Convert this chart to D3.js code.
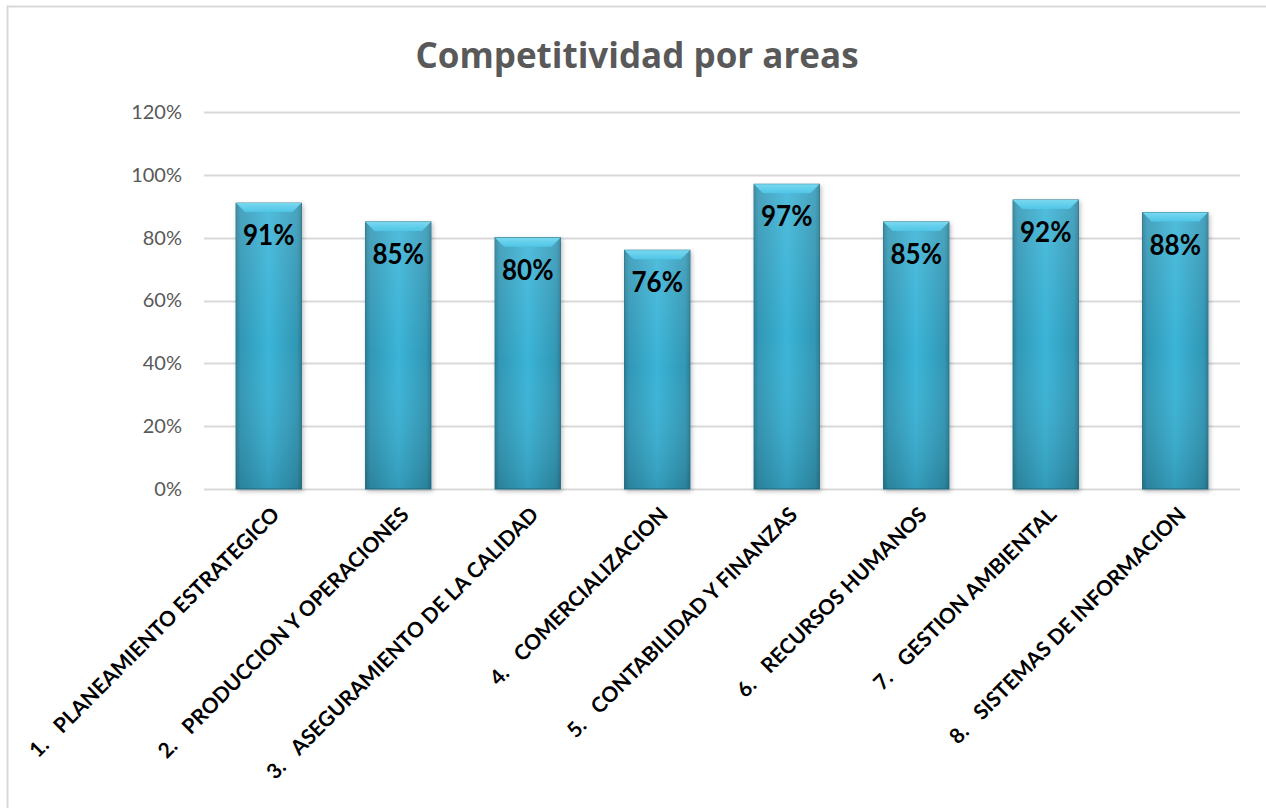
<!DOCTYPE html>
<html>
<head>
<meta charset="utf-8">
<script src="https://cdn.jsdelivr.net/npm/d3@7"></script>
<style>
  html, body { margin: 0; padding: 0; background: #fff; }
  svg { display: block; }
</style>
</head>
<body>
<svg id="chart" width="1266" height="808"></svg>
<script>
// Chart content
const chartTitle = "Competitividad por areas";
const areaNumbers = ["1.", "2.", "3.", "4.", "5.", "6.", "7.", "8."];
const areaNames = [
  "PLANEAMIENTO ESTRATEGICO",
  "PRODUCCION Y OPERACIONES",
  "ASEGURAMIENTO DE LA CALIDAD",
  "COMERCIALIZACION",
  "CONTABILIDAD Y FINANZAS",
  "RECURSOS HUMANOS",
  "GESTION AMBIENTAL",
  "SISTEMAS DE INFORMACION"
];
const scores = [0.91, 0.85, 0.80, 0.76, 0.97, 0.85, 0.92, 0.88];
const yTicks = [0, 0.2, 0.4, 0.6, 0.8, 1.0, 1.2];

const svg = d3.select("#chart");
const W = 1266, H = 808;
const plot = { left: 204, right: 1240, top: 112, bottom: 489 };

// Outer chart frame
svg.append("rect")
  .attr("x", 7.5).attr("y", 6.5)
  .attr("width", W + 10).attr("height", H + 10)
  .attr("fill", "#fff")
  .attr("stroke", "#d9d9d9").attr("stroke-width", 2);

const x = d3.scaleBand()
  .domain(areaNames)
  .range([plot.left, plot.right])
  .paddingInner(0.495)
  .paddingOuter(0.2475);

const y = d3.scaleLinear()
  .domain([0, 1.2])
  .range([plot.bottom, plot.top]);

const defs = svg.append("defs");

// Bar body: darker sides, lighter middle
const hGrad = defs.append("linearGradient").attr("id", "barH")
  .attr("x1", "0").attr("x2", "1").attr("y1", "0").attr("y2", "0");
[[0, "#2a7f98"], [0.07, "#3197b5"], [0.5, "#3ab4d7"], [0.93, "#3197b5"], [1, "#2a7f98"]]
  .forEach(([o, c]) => hGrad.append("stop").attr("offset", o).attr("stop-color", c));

// Vertical shading: lighter at the top, darker at the base
const vGrad = defs.append("linearGradient").attr("id", "barV")
  .attr("x1", "0").attr("x2", "0").attr("y1", "0").attr("y2", "1");
[[0, "#ffffff", 0.12], [0.5, "#ffffff", 0.0], [1, "#000000", 0.14]]
  .forEach(([o, c, a]) => vGrad.append("stop").attr("offset", o)
    .attr("stop-color", c).attr("stop-opacity", a));

// Top bevel
const bevel = defs.append("linearGradient").attr("id", "bevel")
  .attr("x1", "0").attr("x2", "0").attr("y1", "0").attr("y2", "1");
[[0, "#78d8f0"], [1, "#4fc5e6"]]
  .forEach(([o, c]) => bevel.append("stop").attr("offset", o).attr("stop-color", c));

const shadow = defs.append("filter").attr("id", "shadow")
  .attr("x", "-20%").attr("y", "-10%").attr("width", "140%").attr("height", "120%");
shadow.append("feDropShadow").attr("dx", 1.5).attr("dy", 2)
  .attr("stdDeviation", 2).attr("flood-color", "#000").attr("flood-opacity", 0.25);

// Gridlines
svg.append("g").selectAll("line")
  .data(yTicks)
  .join("line")
  .attr("x1", plot.left).attr("x2", plot.right)
  .attr("y1", d => Math.round(y(d)) + 0.5).attr("y2", d => Math.round(y(d)) + 0.5)
  .attr("stroke", "#d9d9d9").attr("stroke-width", 2);

// Y axis labels
const yAxis = d3.axisLeft(y)
  .tickValues(yTicks)
  .tickFormat(d3.format(".0%"))
  .tickSize(0)
  .tickPadding(22);
const yg = svg.append("g")
  .attr("transform", `translate(${plot.left},0)`)
  .call(yAxis);
yg.select(".domain").remove();
yg.selectAll("text")
  .attr("font-family", "Lato, 'Open Sans', sans-serif")
  .attr("font-size", 20)
  .attr("fill", "#595959");

// Bars
const bars = svg.append("g").selectAll("g.bar")
  .data(scores.map((v, i) => ({ name: areaNames[i], v })))
  .join("g").attr("class", "bar");

bars.append("rect")
  .attr("x", d => x(d.name))
  .attr("y", d => y(d.v))
  .attr("width", x.bandwidth())
  .attr("height", d => y(0) - y(d.v))
  .attr("fill", "url(#barH)")
  .attr("stroke", "#26768d").attr("stroke-width", 1)
  .attr("filter", "url(#shadow)");

bars.append("rect")
  .attr("x", d => x(d.name))
  .attr("y", d => y(d.v))
  .attr("width", x.bandwidth())
  .attr("height", d => y(0) - y(d.v))
  .attr("fill", "url(#barV)");

bars.append("path")
  .attr("d", d => {
    const x0 = x(d.name), x1 = x0 + x.bandwidth(), t = y(d.v), b = 9;
    return `M${x0},${t}L${x1},${t}L${x1 - b},${t + b}L${x0 + b},${t + b}Z`;
  })
  .attr("fill", "url(#bevel)");

// Value labels inside the bar top
bars.append("text")
  .attr("transform", d => `translate(${x(d.name) + x.bandwidth() / 2},${y(d.v) + 42}) scale(1,1.12)`)
  .attr("text-anchor", "middle")
  .attr("font-family", "Lato, 'Open Sans', sans-serif")
  .attr("font-weight", 700)
  .attr("font-size", 26)
  .attr("fill", "#000")
  .text(d => d3.format(".0%")(d.v));

// Category labels, rotated
const xg = svg.append("g").selectAll("text.cat")
  .data(areaNames)
  .join("text")
  .attr("class", "cat")
  .attr("transform", d => `translate(${x(d) + x.bandwidth() / 2 + 12},${plot.bottom + 27}) rotate(-45)`)
  .attr("text-anchor", "end")
  .attr("font-family", "Lato, 'Open Sans', sans-serif")
  .attr("font-weight", 700)
  .attr("font-size", 21)
  .attr("fill", "#000");
xg.append("tspan").text((d, i) => areaNumbers[i]);
xg.append("tspan").attr("dx", 17).text(d => d);

// Title
svg.append("text")
  .attr("x", 637).attr("y", 68)
  .attr("text-anchor", "middle")
  .attr("font-family", "'Open Sans', Lato, sans-serif")
  .attr("font-weight", 700)
  .attr("font-size", 35)
  .attr("fill", "#595959")
  .text(chartTitle);
</script>
</body>
</html>
